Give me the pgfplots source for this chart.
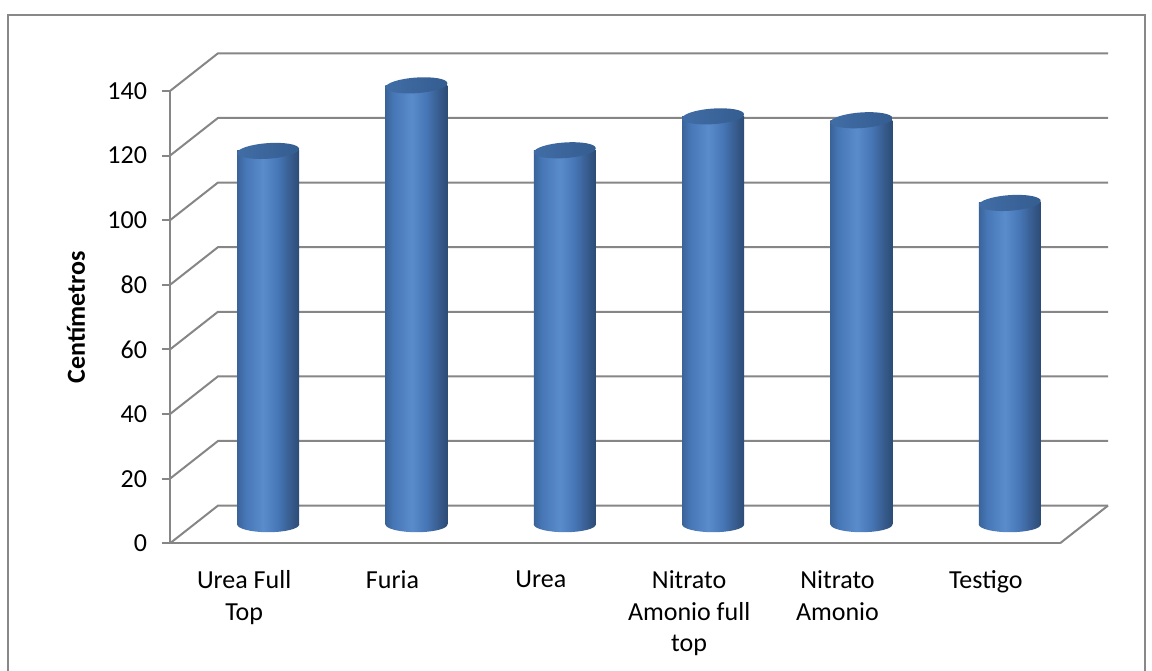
\documentclass[border=0pt]{standalone}
\usepackage{fontspec}
\setmainfont{Carlito}
\usepackage{pgfplots}
\usepackage{pgfplotstable}
\pgfplotsset{compat=1.18}

% colours
\definecolor{gridgray}{HTML}{868686}
\definecolor{framegray}{HTML}{888888}
\definecolor{cylA}{HTML}{3A6399}
\definecolor{cylB}{HTML}{4676B5}
\definecolor{cylC}{HTML}{5A8BCB}
\definecolor{cylE}{HTML}{36598A}
\definecolor{cylD}{HTML}{2C4C76}
\definecolor{topA}{HTML}{416DA6}
\definecolor{topB}{HTML}{345D90}

% side of a cylinder: light band a little left of the centre
\pgfdeclarehorizontalshading{cylside}{100bp}{color(0bp)=(cylA); color(25bp)=(cylA); color(31bp)=(cylB); color(46bp)=(cylC); color(58bp)=(cylB); color(69bp)=(cylE); color(75bp)=(cylD); color(100bp)=(cylD)}
\pgfdeclarehorizontalshading{cyltop}{100bp}{color(0bp)=(topA); color(25bp)=(topA); color(75bp)=(topB); color(100bp)=(topB)}

% lower half of the cylinder bottom and the lid, shifted to half the depth of the box
\pgfdeclareplotmark{cylbase}{%
  \pgfpathmoveto{\pgfpoint{-3.5pt}{0pt}}%
  \pgfpatharc{180}{360}{15.5pt and 3.9pt}%
  \pgfpathclose
  \pgfshadepath{cylside}{0}%
  \pgfusepath{discard}}
\pgfdeclareplotmark{cyltop}{%
  \pgfpathellipse{\pgfpoint{12pt}{0pt}}{\pgfpointpolar{4}{15.5pt}}{\pgfpointpolar{94}{3.9pt}}%
  \pgfshadepath{cyltop}{0}%
  \pgfusepath{discard}}

\pgfplotstableread{
x    v
0.5  115.6
1.5  135.9
2.5  115.8
3.5  126.3
4.5  125.1
5.5  99.5
}\heights

\pgfplotsset{
  cylinder side/.style={ybar, bar width=31pt, bar shift=12pt, draw=none, shade, shading=cylside},
}

\begin{document}
\begin{tikzpicture}
\useasboundingbox (-85pt,-63.35pt) rectangle (491pt,271.65pt);
\draw[framegray, line width=1pt] (-81pt,-90pt) rectangle (487.5pt,264.15pt);
\begin{axis}[
  at={(0pt,0pt)}, anchor=south west,
  scale only axis, width=445pt, height=226.15pt,
  xmin=0, xmax=6, ymin=-5.85, ymax=134.15,
  clip=false,
  axis lines*=left,
  axis line style={draw=gridgray, line width=1pt},
  tick align=outside,
  major tick length=4pt,
  xtick={0.5,1.5,2.5,3.5,4.5,5.5},
  xticklabels={{Urea Full\\Top},Furia,Urea,{Nitrato\\Amonio full\\top},{Nitrato\\Amonio},Testigo},
  xtick style={draw=none},
  ytick={-5.85,14.15,34.15,54.15,74.15,94.15,114.15,134.15},
  yticklabels={0,20,40,60,80,100,120,140},
  ytick style={draw=gridgray, line width=1pt},
  tick label style={font=\fontsize{13}{15.9}\selectfont, text=black},
  xticklabel style={align=center, yshift=-6pt},
  yticklabel style={xshift=-4pt},
  ylabel={\bfseries Centímetros},
  ylabel style={font=\fontsize{13}{15.9}\selectfont, at={(axis description cs:-0.1056,0.5)}, anchor=center},
]
% side wall, back wall and floor
\pgfplotsinvokeforeach{-5.85,14.15,34.15,54.15,74.15,94.15,114.15,134.15}{
  \draw[gridgray, line width=1pt] (axis cs:0,#1) -- ++(24pt,18.85pt) -- ++(445pt,0pt);
}
\draw[gridgray, line width=1pt] (axis cs:6,-5.85) -- ++(24pt,18.85pt);

% cylinders: bottom, side (one plot per cylinder so each gets its own shading), lid
\addplot[only marks, mark=cylbase] table[x=x, y expr=0] {\heights};
\addplot[cylinder side, restrict x to domain=0:1] table[x=x, y=v] {\heights};
\addplot[cylinder side, restrict x to domain=1:2] table[x=x, y=v] {\heights};
\addplot[cylinder side, restrict x to domain=2:3] table[x=x, y=v] {\heights};
\addplot[cylinder side, restrict x to domain=3:4] table[x=x, y=v] {\heights};
\addplot[cylinder side, restrict x to domain=4:5] table[x=x, y=v] {\heights};
\addplot[cylinder side, restrict x to domain=5:6] table[x=x, y=v] {\heights};
\addplot[only marks, mark=cyltop] table[x=x, y=v] {\heights};
\end{axis}
\end{tikzpicture}
\end{document}
